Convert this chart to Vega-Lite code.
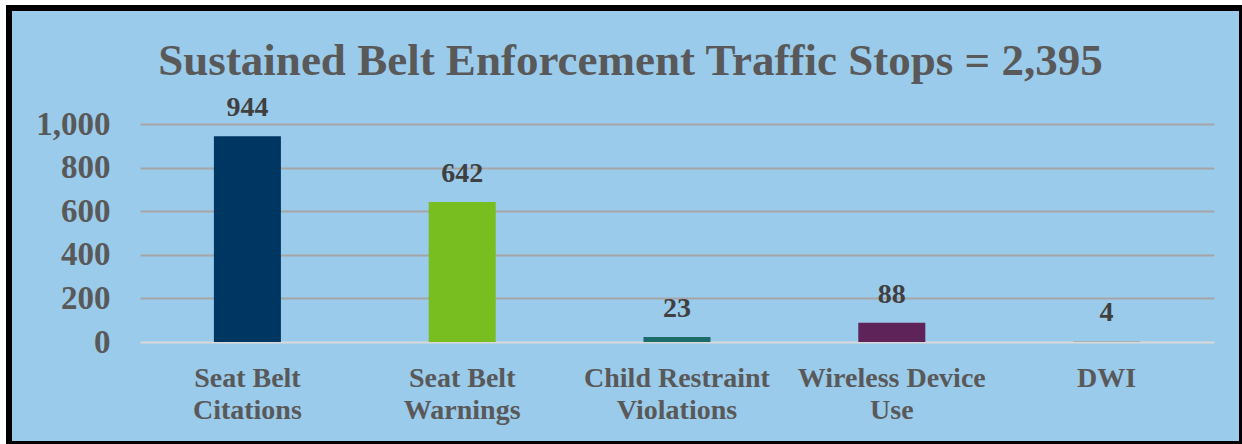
{
  "$schema": "https://vega.github.io/schema/vega-lite/v6.json",
  "autosize": {"type": "none"},
  "width": 1233,
  "height": 436,
  "padding": {"left": 9, "top": 8, "right": 0, "bottom": 0},
  "background": "#ffffff",
  "config": {
    "view": {"fill": "#9BCBEB", "stroke": "#000000", "strokeWidth": 6},
    "font": "Liberation Serif"
  },
  "title": {
    "text": "Sustained Belt Enforcement Traffic Stops = 2,395",
    "font": "Liberation Serif",
    "fontSize": 45,
    "fontWeight": "bold",
    "color": "#595959",
    "anchor": "middle",
    "frame": "group",
    "baseline": "alphabetic",
    "offset": -112,
    "dx": 5
  },
  "data": {
    "values": [
      {"category": "Seat Belt Citations", "count": 944},
      {"category": "Seat Belt Warnings", "count": 642},
      {"category": "Child Restraint Violations", "count": 23},
      {"category": "Wireless Device Use", "count": 88},
      {"category": "DWI", "count": 4}
    ]
  },
  "encoding": {
    "x": {
      "field": "category",
      "type": "nominal",
      "sort": null,
      "scale": {"range": [131, 1205], "paddingInner": 0.688, "paddingOuter": 0.344},
      "axis": {
        "title": null,
        "orient": "bottom",
        "offset": -102,
        "domain": false,
        "ticks": false,
        "tickSize": 0,
        "grid": false,
        "labelPadding": 44,
        "labelBaseline": "alphabetic",
        "labelAngle": 0,
        "labelFont": "Liberation Serif",
        "labelFontSize": 28,
        "labelFontWeight": "bold",
        "labelColor": "#595959",
        "labelLineHeight": 32,
        "labelLimit": 0,
        "labelOverlap": false,
        "labelBound": false,
        "labelExpr": "datum.label == 'Seat Belt Citations' ? ['Seat Belt','Citations'] : datum.label == 'Seat Belt Warnings' ? ['Seat Belt','Warnings'] : datum.label == 'Child Restraint Violations' ? ['Child Restraint','Violations'] : datum.label == 'Wireless Device Use' ? ['Wireless Device','Use'] : datum.label"
      }
    }
  },
  "layer": [
    {
      "mark": {"type": "bar"},
      "encoding": {
        "y": {
          "field": "count",
          "type": "quantitative",
          "scale": {"domain": [0, 1000], "range": [334, 116], "nice": false, "zero": true},
          "axis": {
            "title": null,
            "values": [0, 200, 400, 600, 800, 1000],
            "format": ",.0f",
            "grid": true,
            "gridColor": {"condition": {"test": "datum.value === 0", "value": "#D9D9D9"}, "value": "#A5A5A5"},
            "gridWidth": 2,
            "domain": false,
            "ticks": false,
            "tickSize": 0,
            "labelPadding": 0,
            "offset": -101,
            "labelFont": "Liberation Serif",
            "labelFontSize": 33,
            "labelFontWeight": "bold",
            "labelColor": "#595959",
            "labelBaseline": "middle"
          }
        },
        "color": {
          "field": "category",
          "type": "nominal",
          "sort": null,
          "legend": null,
          "scale": {
            "domain": ["Seat Belt Citations", "Seat Belt Warnings", "Child Restraint Violations", "Wireless Device Use", "DWI"],
            "range": ["#003662", "#78BE20", "#1B6B6B", "#5E2359", "#A5A5A5"]
          }
        }
      }
    },
    {
      "mark": {
        "type": "text",
        "dy": -20,
        "baseline": "alphabetic",
        "align": "center",
        "font": "Liberation Serif",
        "fontSize": 28,
        "fontWeight": "bold",
        "color": "#404040"
      },
      "encoding": {
        "y": {"field": "count", "type": "quantitative"},
        "text": {"field": "count", "type": "quantitative"}
      }
    }
  ]
}
